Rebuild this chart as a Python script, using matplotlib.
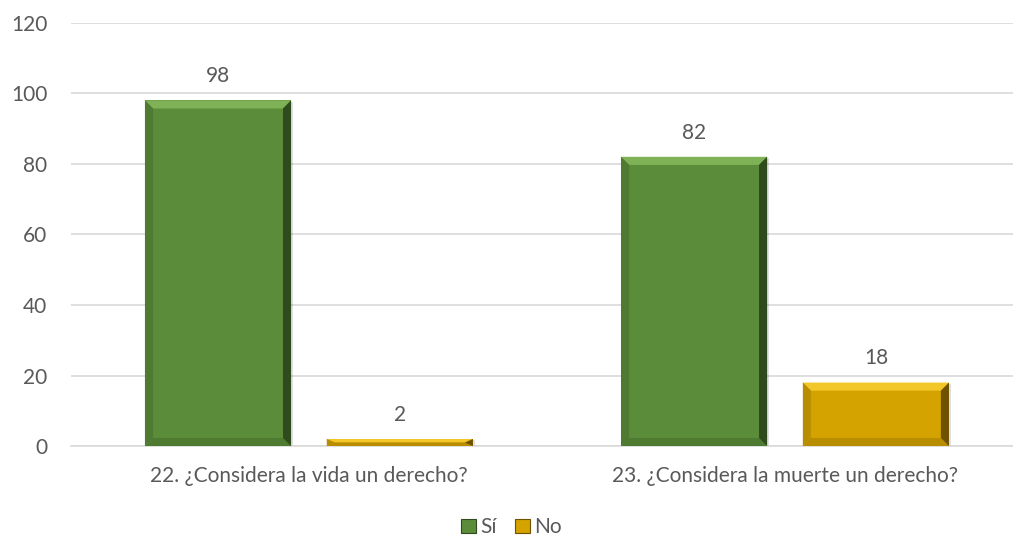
import numpy as np
import matplotlib.pyplot as plt
from matplotlib.patches import Polygon, Rectangle

plt.rcParams['font.family'] = ['Lato', 'DejaVu Sans']

categories = ['22. ¿Considera la vida un derecho?', '23. ¿Considera la muerte un derecho?']
series_names = ['Sí', 'No']
si_values = [98, 82]
no_values = [2, 18]
y_ticks = [0, 20, 40, 60, 80, 100, 120]

face_colors = ['#5B8C3A', '#D4A300']
light_colors = ['#7FB257', '#F2C72A']
dark_colors = ['#2F4A1C', '#6E5200']
mid_dark_colors = ['#4E7B31', '#B88E00']

text_color = '#595959'

fig = plt.figure(figsize=(10.13, 5.42), dpi=100)
ax = fig.add_axes([0.070, 0.177, 0.930, 0.781])

x = np.arange(len(categories))
bar_w = 0.307
offset = 0.191


def bevel_bar(ax, xc, h, i):
    '''Draws a bar with a simple bevel look.'''
    x0, x1 = xc - bar_w / 2, xc + bar_w / 2
    bx = 0.017
    by = min(2.3, h / 2)
    # shadow
    ax.add_patch(Rectangle((x0 + 0.004, -0.4), bar_w, h, facecolor='#000000',
                           alpha=0.12, lw=0, zorder=2))
    ax.add_patch(Rectangle((x0, 0), bar_w, h, facecolor=face_colors[i], lw=0, zorder=3))
    top = [(x0, h), (x1, h), (x1 - bx, h - by), (x0 + bx, h - by)]
    bottom = [(x0, 0), (x1, 0), (x1 - bx, by), (x0 + bx, by)]
    left = [(x0, 0), (x0, h), (x0 + bx, h - by), (x0 + bx, by)]
    right = [(x1, 0), (x1, h), (x1 - bx, h - by), (x1 - bx, by)]
    ax.add_patch(Polygon(top, closed=True, facecolor=light_colors[i], lw=0, zorder=4))
    ax.add_patch(Polygon(bottom, closed=True, facecolor=mid_dark_colors[i], lw=0, zorder=4))
    ax.add_patch(Polygon(left, closed=True, facecolor=mid_dark_colors[i], lw=0, zorder=4))
    ax.add_patch(Polygon(right, closed=True, facecolor=dark_colors[i], lw=0, zorder=4))
    ax.text(xc, h + 4.0, str(h), ha='center', va='bottom', fontsize=15, color=text_color)


for j in range(len(categories)):
    bevel_bar(ax, x[j] - offset, si_values[j], 0)
    bevel_bar(ax, x[j] + offset, no_values[j], 1)

ax.set_xlim(-0.5, 1.479)
ax.set_ylim(0, 120)
ax.set_yticks(y_ticks)
ax.set_xticks(x)
ax.set_xticklabels(categories)
ax.tick_params(axis='both', length=0, labelsize=15, labelcolor=text_color)
ax.tick_params(axis='y', pad=17)
ax.tick_params(axis='x', pad=14)
ax.yaxis.grid(True, color='#D9D9D9', lw=1.2)
ax.set_axisbelow(True)
for s in ['top', 'right', 'left']:
    ax.spines[s].set_visible(False)
ax.spines['bottom'].set_color('#D9D9D9')
ax.spines['bottom'].set_linewidth(1.2)

handles = [Rectangle((0, 0), 1, 1, facecolor=face_colors[i], edgecolor=dark_colors[i], lw=0.8)
           for i in range(2)]
fig.legend(handles, series_names, loc='center', bbox_to_anchor=(0.505, 0.027), ncol=2,
           frameon=False, fontsize=15, labelcolor=text_color, handlelength=0.7,
           handleheight=0.7, handletextpad=0.2, columnspacing=0.9)

fig.savefig('out.png', dpi=100, facecolor='white')
